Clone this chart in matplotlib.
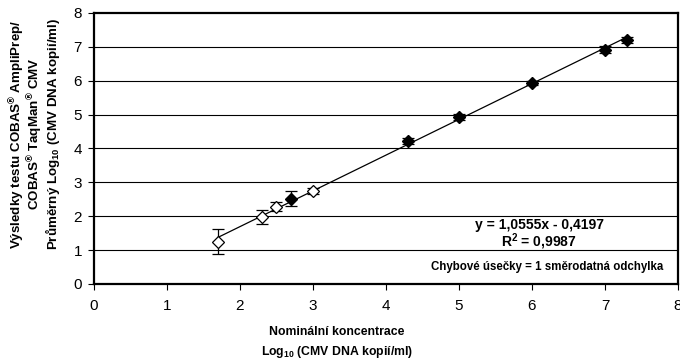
import matplotlib
matplotlib.use("Agg")
import matplotlib.pyplot as plt

plt.rcParams['font.family'] = ['Liberation Sans', 'DejaVu Sans']
plt.rcParams['mathtext.fontset'] = 'custom'
plt.rcParams['mathtext.rm'] = 'Liberation Sans'
plt.rcParams['mathtext.bf'] = 'Liberation Sans:bold'

# otevřené body
x_open = [1.7, 2.3, 2.5, 3.0]
y_open = [1.25, 1.98, 2.28, 2.75]
e_open = [0.38, 0.2, 0.13, 0.09]

# plné body
x_full = [2.7, 4.3, 5.0, 6.0, 7.0, 7.3]
y_full = [2.52, 4.22, 4.93, 5.93, 6.92, 7.2]
e_full = [0.22, 0.08, 0.08, 0.07, 0.1, 0.1]

slope, intercept = 1.0555, -0.4197
x_fit = [1.7, 7.3]

fig = plt.figure(figsize=(6.8, 3.59), dpi=100)
ax = fig.add_axes([0.138, 0.209, 0.859, 0.755])

for yy in range(1, 8):
    ax.axhline(yy, color='k', lw=0.8, zorder=1)

ax.plot(x_fit, [slope*x + intercept for x in x_fit], color='k', lw=0.9, zorder=2)

ax.errorbar(x_open, y_open, yerr=e_open, fmt='D', mfc='white', mec='k', mew=0.9,
            ms=6.5, ecolor='k', elinewidth=0.9, capsize=4, capthick=0.9, zorder=3)
ax.errorbar(x_full, y_full, yerr=e_full, fmt='D', mfc='k', mec='k',
            ms=6.5, ecolor='k', elinewidth=0.9, capsize=4, capthick=0.9, zorder=3)

ax.set_xlim(0, 8)
ax.set_ylim(0, 8)
ax.set_xticks(range(9))
ax.set_yticks(range(9))
ax.tick_params(labelsize=11, length=4.5, width=0.8, direction='out')
ax.tick_params(axis='x', pad=6)
ax.tick_params(axis='y', pad=4)
for s in ax.spines.values():
    s.set_linewidth(1.6)

ax.text(6.1, 1.74, "y = 1,0555x - 0,4197", fontsize=10, fontweight='bold',
        ha='center', va='center')
ax.text(6.1, 1.24, r"R$^{\mathbf{2}}$ = 0,9987", fontsize=10, fontweight='bold',
        ha='center', va='center')
ax.text(7.8, 0.5, "Chybové úsečky = 1 směrodatná odchylka", fontsize=8.3,
        fontweight='bold', ha='right', va='center')

# popisky os
fig.text(337/680, 1 - 332/359, "Nominální koncentrace", fontsize=8.8,
         fontweight='bold', ha='center', va='center')
fig.text(337/680, 1 - 352/359, r"Log$_{\mathbf{10}}$ (CMV DNA kopií/ml)", fontsize=8.8,
         fontweight='bold', ha='center', va='center')

ylines = ["Výsledky testu COBAS" + r"$^{\mathbf{®}}$" + " AmpliPrep/",
          "COBAS" + r"$^{\mathbf{®}}$" + " TaqMan" + r"$^{\mathbf{®}}$" + " CMV",
          "Průměrný Log" + r"$_{\mathbf{10}}$" + " (CMV DNA kopií/ml)"]
for i, t in enumerate(ylines):
    fig.text((17 + 18*i)/680, 1 - 134/359, t, fontsize=9.6, fontweight='bold',
             rotation=90, ha='center', va='center')

fig.savefig("out.png", dpi=100)
